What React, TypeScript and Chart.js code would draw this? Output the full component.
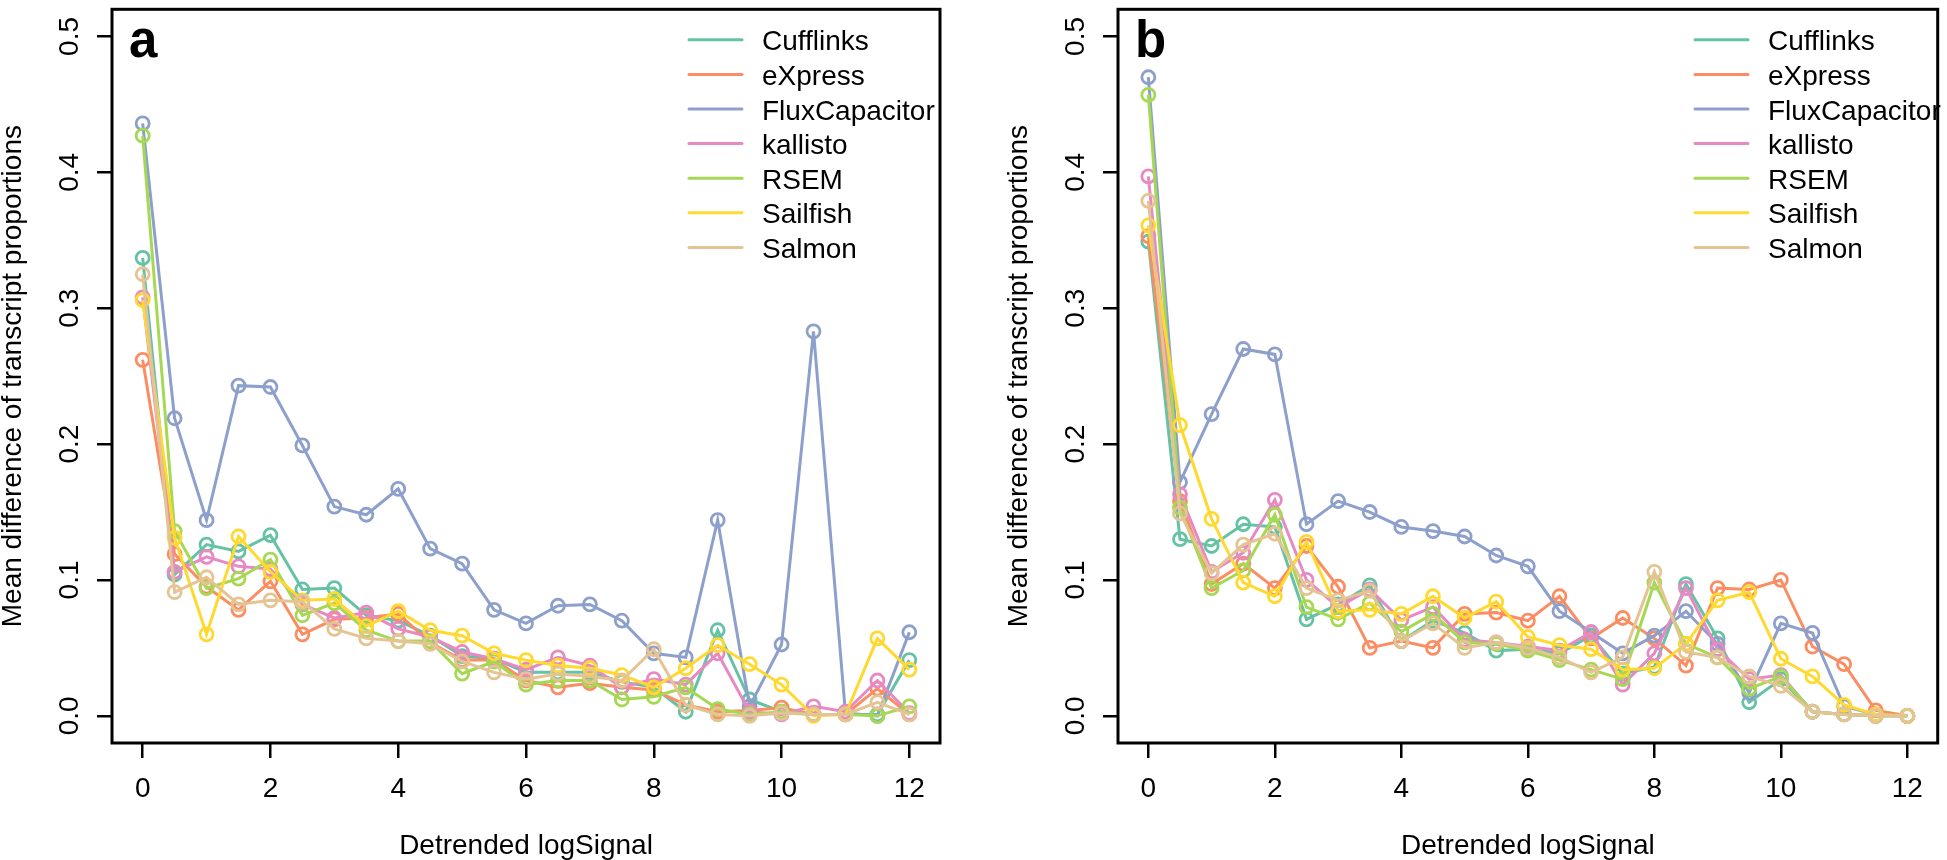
import React, { useEffect, useRef } from 'react';
import { Chart, registerables } from 'chart.js';

Chart.register(...registerables);

// ---------- data ----------
const xValues = [0, 0.5, 1, 1.5, 2, 2.5, 3, 3.5, 4, 4.5, 5, 5.5, 6, 6.5, 7, 7.5, 8, 8.5, 9, 9.5, 10, 10.5, 11, 11.5, 12];
const methods = ['Cufflinks', 'eXpress', 'FluxCapacitor', 'kallisto', 'RSEM', 'Sailfish', 'Salmon'];
const colors = ['#66C2A5', '#FC8D62', '#8DA0CB', '#E78AC3', '#A6D854', '#FFD92F', '#E5C494'];
const xTicks = [0, 2, 4, 6, 8, 10, 12];
const yTicks = [0, 0.1, 0.2, 0.3, 0.4, 0.5];
const panelLabels = ['a', 'b'];
const xTitle = 'Detrended logSignal';
const yTitle = 'Mean difference of transcript proportions';

// panel a
const aCufflinks = [0.337, 0.104, 0.126, 0.121, 0.133, 0.093, 0.094, 0.074, 0.070, 0.059, 0.044, 0.042, 0.032, 0.032, 0.032, 0.025, 0.021, 0.003, 0.063, 0.012, 0.003, 0.001, 0.001, 0.001, 0.041];
const aExpress = [0.262, 0.119, 0.095, 0.078, 0.099, 0.060, 0.071, 0.072, 0.075, 0.054, 0.041, 0.041, 0.026, 0.021, 0.024, 0.021, 0.019, 0.008, 0.003, 0.004, 0.006, 0.001, 0.001, 0.020, 0.001];
const aFlux = [0.436, 0.219, 0.144, 0.243, 0.242, 0.199, 0.154, 0.148, 0.167, 0.123, 0.112, 0.078, 0.068, 0.081, 0.082, 0.070, 0.046, 0.043, 0.144, 0.007, 0.0525, 0.283, 0.002, 0.0, 0.0615];
const aKallisto = [0.308, 0.106, 0.117, 0.110, 0.108, 0.082, 0.072, 0.076, 0.064, 0.058, 0.047, 0.042, 0.034, 0.043, 0.037, 0.021, 0.027, 0.023, 0.046, 0.003, 0.001, 0.007, 0.003, 0.026, 0.002];
const aRsem = [0.427, 0.136, 0.094, 0.101, 0.115, 0.074, 0.083, 0.063, 0.055, 0.055, 0.031, 0.040, 0.023, 0.026, 0.026, 0.012, 0.014, 0.021, 0.005, 0.001, 0.003, 0.001, 0.001, 0.0, 0.007];
const aSailfish = [0.306, 0.131, 0.060, 0.132, 0.106, 0.085, 0.086, 0.066, 0.077, 0.063, 0.059, 0.046, 0.041, 0.037, 0.035, 0.030, 0.021, 0.035, 0.052, 0.038, 0.023, 0.0, 0.001, 0.057, 0.034];
const aSalmon = [0.325, 0.091, 0.102, 0.082, 0.085, 0.084, 0.064, 0.057, 0.055, 0.053, 0.040, 0.032, 0.027, 0.031, 0.029, 0.026, 0.049, 0.008, 0.001, 0.0, 0.002, 0.001, 0.001, 0.010, 0.001];

// panel b
const bCufflinks = [0.349, 0.130, 0.125, 0.141, 0.139, 0.071, 0.082, 0.096, 0.055, 0.070, 0.061, 0.048, 0.049, 0.046, 0.059, 0.031, 0.036, 0.097, 0.057, 0.010, 0.027, 0.003, 0.001, 0.0, 0.0];
const bExpress = [0.353, 0.158, 0.097, 0.112, 0.094, 0.125, 0.095, 0.050, 0.055, 0.050, 0.075, 0.076, 0.070, 0.088, 0.057, 0.072, 0.057, 0.037, 0.094, 0.093, 0.100, 0.051, 0.038, 0.004, 0.0];
const bFlux = [0.470, 0.172, 0.222, 0.270, 0.266, 0.141, 0.158, 0.150, 0.139, 0.136, 0.132, 0.118, 0.110, 0.077, 0.0615, 0.046, 0.059, 0.077, 0.053, 0.017, 0.068, 0.061, 0.007, 0.001, 0.0];
const bKallisto = [0.397, 0.163, 0.106, 0.120, 0.159, 0.100, 0.080, 0.093, 0.0705, 0.080, 0.056, 0.054, 0.051, 0.048, 0.0615, 0.023, 0.046, 0.094, 0.049, 0.027, 0.030, 0.003, 0.001, 0.0, 0.0];
const bRsem = [0.457, 0.153, 0.094, 0.107, 0.148, 0.080, 0.071, 0.083, 0.062, 0.075, 0.054, 0.053, 0.048, 0.041, 0.034, 0.027, 0.098, 0.053, 0.043, 0.020, 0.029, 0.003, 0.001, 0.0, 0.0];
const bSailfish = [0.361, 0.214, 0.145, 0.098, 0.088, 0.128, 0.077, 0.078, 0.075, 0.088, 0.072, 0.084, 0.058, 0.052, 0.049, 0.034, 0.035, 0.053, 0.085, 0.091, 0.042, 0.029, 0.008, 0.001, 0.0];
const bSalmon = [0.379, 0.149, 0.105, 0.126, 0.134, 0.094, 0.085, 0.092, 0.055, 0.068, 0.050, 0.054, 0.050, 0.043, 0.032, 0.043, 0.106, 0.047, 0.043, 0.029, 0.022, 0.003, 0.001, 0.0, 0.0];

const panelA = [aCufflinks, aExpress, aFlux, aKallisto, aRsem, aSailfish, aSalmon];
const panelB = [bCufflinks, bExpress, bFlux, bKallisto, bRsem, bSailfish, bSalmon];

// ---------- styling ----------
const FONT = '"Liberation Sans", Arial, Helvetica, sans-serif';
const PANEL_H = 860;
const PLOT_RIGHT = 940;
const Y_AXIS_W = 112;
const X_AXIS_H = 117;

function makeOverlay(label: string) {
  return {
    id: 'overlay' + label,
    afterDraw(chart: any) {
      const ctx = chart.ctx as CanvasRenderingContext2D;
      const { left, right, top, bottom } = chart.chartArea;
      const xs = chart.scales.x;
      const ys = chart.scales.y;
      ctx.save();
      ctx.fillStyle = '#000';
      ctx.strokeStyle = '#000';
      ctx.font = `28px ${FONT}`;
      ctx.textBaseline = 'alphabetic';
      ctx.textAlign = 'center';
      // x tick labels
      xs.ticks.forEach((t: any) => {
        ctx.fillText(String(t.value), xs.getPixelForValue(t.value), bottom + 54);
      });
      // y tick labels (rotated, parallel to axis)
      ys.ticks.forEach((t: any) => {
        const y = ys.getPixelForValue(t.value);
        ctx.save();
        ctx.translate(ys.right - 34, y);
        ctx.rotate(-Math.PI / 2);
        ctx.fillText(Number(t.value).toFixed(1), 0, 0);
        ctx.restore();
      });
      // axis titles
      ctx.fillText(xTitle, (left + right) / 2, bottom + 111);
      ctx.save();
      ctx.translate(ys.left + 21, (top + bottom) / 2);
      ctx.rotate(-Math.PI / 2);
      ctx.fillText(yTitle, 0, 0);
      ctx.restore();
      // box
      ctx.lineWidth = 3;
      ctx.strokeRect(left, top, right - left, bottom - top);
      // panel label
      ctx.font = `bold 51px ${FONT}`;
      ctx.textAlign = 'left';
      ctx.fillText(label, left + 17, top + 48);
      // legend
      ctx.font = `28px ${FONT}`;
      ctx.lineWidth = 3;
      ctx.lineCap = 'round';
      chart.data.datasets.forEach((ds: any, i: number) => {
        const y = top + 30.5 + i * 34.6;
        ctx.strokeStyle = ds.borderColor;
        ctx.beginPath();
        ctx.moveTo(left + 577, y);
        ctx.lineTo(left + 630, y);
        ctx.stroke();
        ctx.fillStyle = '#000';
        ctx.fillText(ds.label, left + 650, y + 10.5);
      });
      ctx.restore();
    },
  };
}

function Panel({ series, label, width, x }: { series: number[][]; label: string; width: number; x: number }) {
  const ref = useRef<HTMLCanvasElement | null>(null);
  useEffect(() => {
    if (!ref.current) return;
    const datasets = series.map((vals, i) => ({
      label: methods[i],
      data: vals.map((v, k) => ({ x: xValues[k], y: v })),
      borderColor: colors[i],
      backgroundColor: colors[i],
      borderWidth: 3,
      pointRadius: 6.5,
      pointBorderWidth: 2.8,
      pointBorderColor: colors[i],
      pointBackgroundColor: 'rgba(255,255,255,0)',
      tension: 0,
      fill: false,
      order: series.length - i,
    }));
    const tickGrid = {
      drawOnChartArea: false,
      drawTicks: true,
      tickLength: 15,
      color: '#000',
      lineWidth: 2.5,
    };
    const chart = new Chart(ref.current, {
      type: 'line',
      data: { datasets },
      options: {
        responsive: false,
        animation: false,
        events: [],
        layout: { padding: { left: 0, top: 2, right: width - PLOT_RIGHT, bottom: 0 } },
        plugins: { legend: { display: false }, tooltip: { enabled: false } },
        scales: {
          x: {
            type: 'linear',
            min: -0.48,
            max: 12.48,
            afterBuildTicks: (s: any) => {
              s.ticks = xTicks.map((v) => ({ value: v }));
            },
            afterFit: (s: any) => {
              s.height = X_AXIS_H;
            },
            ticks: { display: false },
            grid: tickGrid,
            border: { display: false },
          },
          y: {
            type: 'linear',
            min: -0.02,
            max: 0.52,
            afterBuildTicks: (s: any) => {
              s.ticks = yTicks.map((v) => ({ value: v }));
            },
            afterFit: (s: any) => {
              s.width = Y_AXIS_W;
            },
            ticks: { display: false },
            grid: tickGrid,
            border: { display: false },
          },
        },
      } as any,
      plugins: [makeOverlay(label)],
    });
    return () => chart.destroy();
  }, [series, label, width]);
  return (
    <canvas
      ref={ref}
      width={width}
      height={PANEL_H}
      style={{ position: 'absolute', left: x, top: 0, width, height: PANEL_H }}
    />
  );
}

export default function App() {
  return (
    <div style={{ position: 'fixed', left: 0, top: 0, width: 1947, height: 860, background: '#fff', overflow: 'hidden' }}>
      <Panel series={panelA} label={panelLabels[0]} width={1006} x={0} />
      <Panel series={panelB} label={panelLabels[1]} width={941} x={1006} />
    </div>
  );
}
